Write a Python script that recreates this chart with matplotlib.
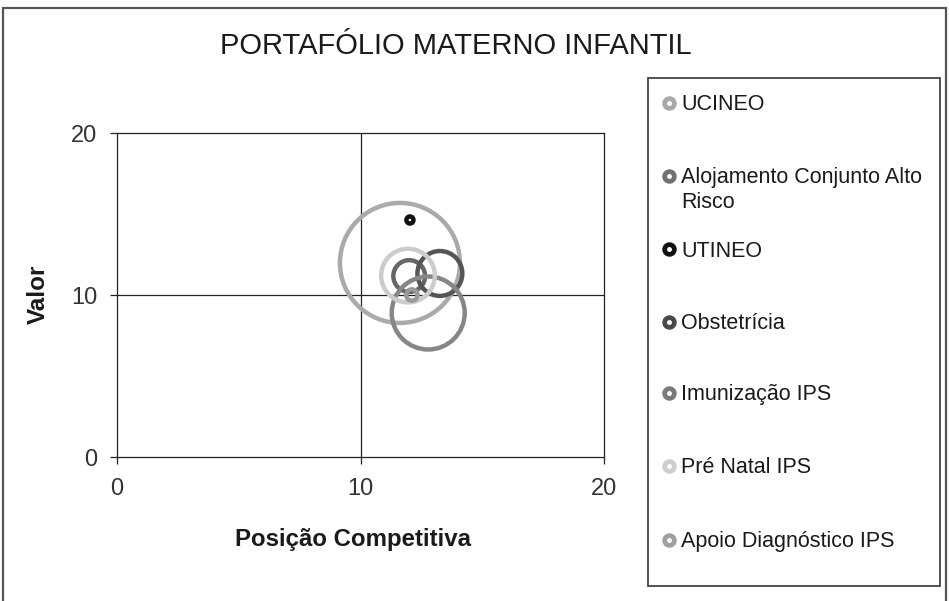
import numpy as np
import matplotlib
matplotlib.use("Agg")
import matplotlib.pyplot as plt
from matplotlib.patches import Rectangle
from matplotlib.lines import Line2D

plt.rcParams['font.family'] = ['Liberation Sans', 'DejaVu Sans']

# ---- data ----
series = ["UCINEO", "Alojamento Conjunto Alto Risco", "UTINEO", "Obstetrícia",
          "Imunização IPS", "Pré Natal IPS", "Apoio Diagnóstico IPS"]
pos_competitiva = [11.62, 12.00, 12.03, 13.26, 12.78, 11.95, 12.11]
valor = [11.98, 11.17, 14.63, 11.33, 8.89, 11.20, 10.00]
bubble_size = [100.0, 7.0, 0.35, 14.0, 37.0, 20.0, 0.9]
colors = ["#aaaaaa", "#666666", "#111111", "#555555", "#868686", "#cccccc", "#9a9a9a"]
legend_colors = ["#a8a8a8", "#707070", "#111111", "#4a4a4a", "#7a7a7a", "#cdcdcd", "#a0a0a0"]
ticks = [0, 10, 20]
title = "PORTAFÓLIO MATERNO INFANTIL"
xlabel = "Posição Competitiva"
ylabel = "Valor"

W, H = 949, 601
fig = plt.figure(figsize=(W / 100, H / 100), dpi=100)

# outer frame
fig.add_artist(Rectangle((3 / W, -0.05), (946 - 3) / W, 1 - 8 / H + 0.05,
                         transform=fig.transFigure, fill=False,
                         edgecolor="#555555", lw=1.6))

ax = fig.add_axes([117 / W, 1 - 457 / H, (604 - 117) / W, (457 - 133) / H])
ax.set_xlim(0, 20)
ax.set_ylim(0, 20)
ax.set_xticks(ticks)
ax.set_yticks(ticks)
ax.tick_params(direction='out', length=5, width=0.9, color='#222222',
               labelsize=17, labelcolor='#333333')
ax.tick_params(axis='x', pad=10)
ax.tick_params(axis='y', pad=9)
for sp in ax.spines.values():
    sp.set_linewidth(0.9)
    sp.set_color('#222222')
ax.axhline(10, color='#222222', lw=0.9, zorder=1)
ax.axvline(10, color='#222222', lw=0.9, zorder=1)

max_r_px = 60.0
max_size = max(bubble_size)
for i in range(len(series)):
    r_px = max_r_px * np.sqrt(bubble_size[i] / max_size)
    d_pt = 2 * r_px * 0.72
    ax.scatter([pos_competitiva[i]], [valor[i]], s=d_pt ** 2,
               facecolors='none', edgecolors=colors[i], linewidths=3.2,
               zorder=3 + i)

fig.text(456 / W, 1 - 54 / H, title, ha='center', va='baseline',
         fontsize=21, color='#1a1a1a')
fig.text(353 / W, 1 - 546 / H, xlabel, ha='center', va='baseline',
         fontsize=17.3, fontweight='bold', color='#1a1a1a')
fig.text(38 / W, 1 - 294 / H, ylabel, ha='center', va='center',
         rotation=90, fontsize=17.5, fontweight='bold', color='#1a1a1a')

# legend box
fig.add_artist(Rectangle((648 / W, 1 - 586 / H), (940 - 648) / W, (586 - 78) / H,
                         transform=fig.transFigure, fill=False,
                         edgecolor="#444444", lw=1.3))
first_baselines = [110, 183.5, 256.5, 329, 400, 473, 547]
line_gap = 24.5
for i, name in enumerate(series):
    label = name.replace(" Alto Risco", " Alto\nRisco")
    nlines = label.count("\n")
    yb = 1 - (first_baselines[i] + nlines * line_gap) / H
    fig.text(681 / W, yb, label, ha='left', va='baseline', fontsize=15.5,
             color='#1a1a1a', linespacing=1.24)
    fig.add_artist(Line2D([669 / W], [1 - (first_baselines[i] - 7.5) / H],
                          transform=fig.transFigure, marker='o', ms=7.0,
                          mfc='white', mec=legend_colors[i], mew=3.4,
                          linestyle='none'))

fig.savefig("out.png", dpi=100)
